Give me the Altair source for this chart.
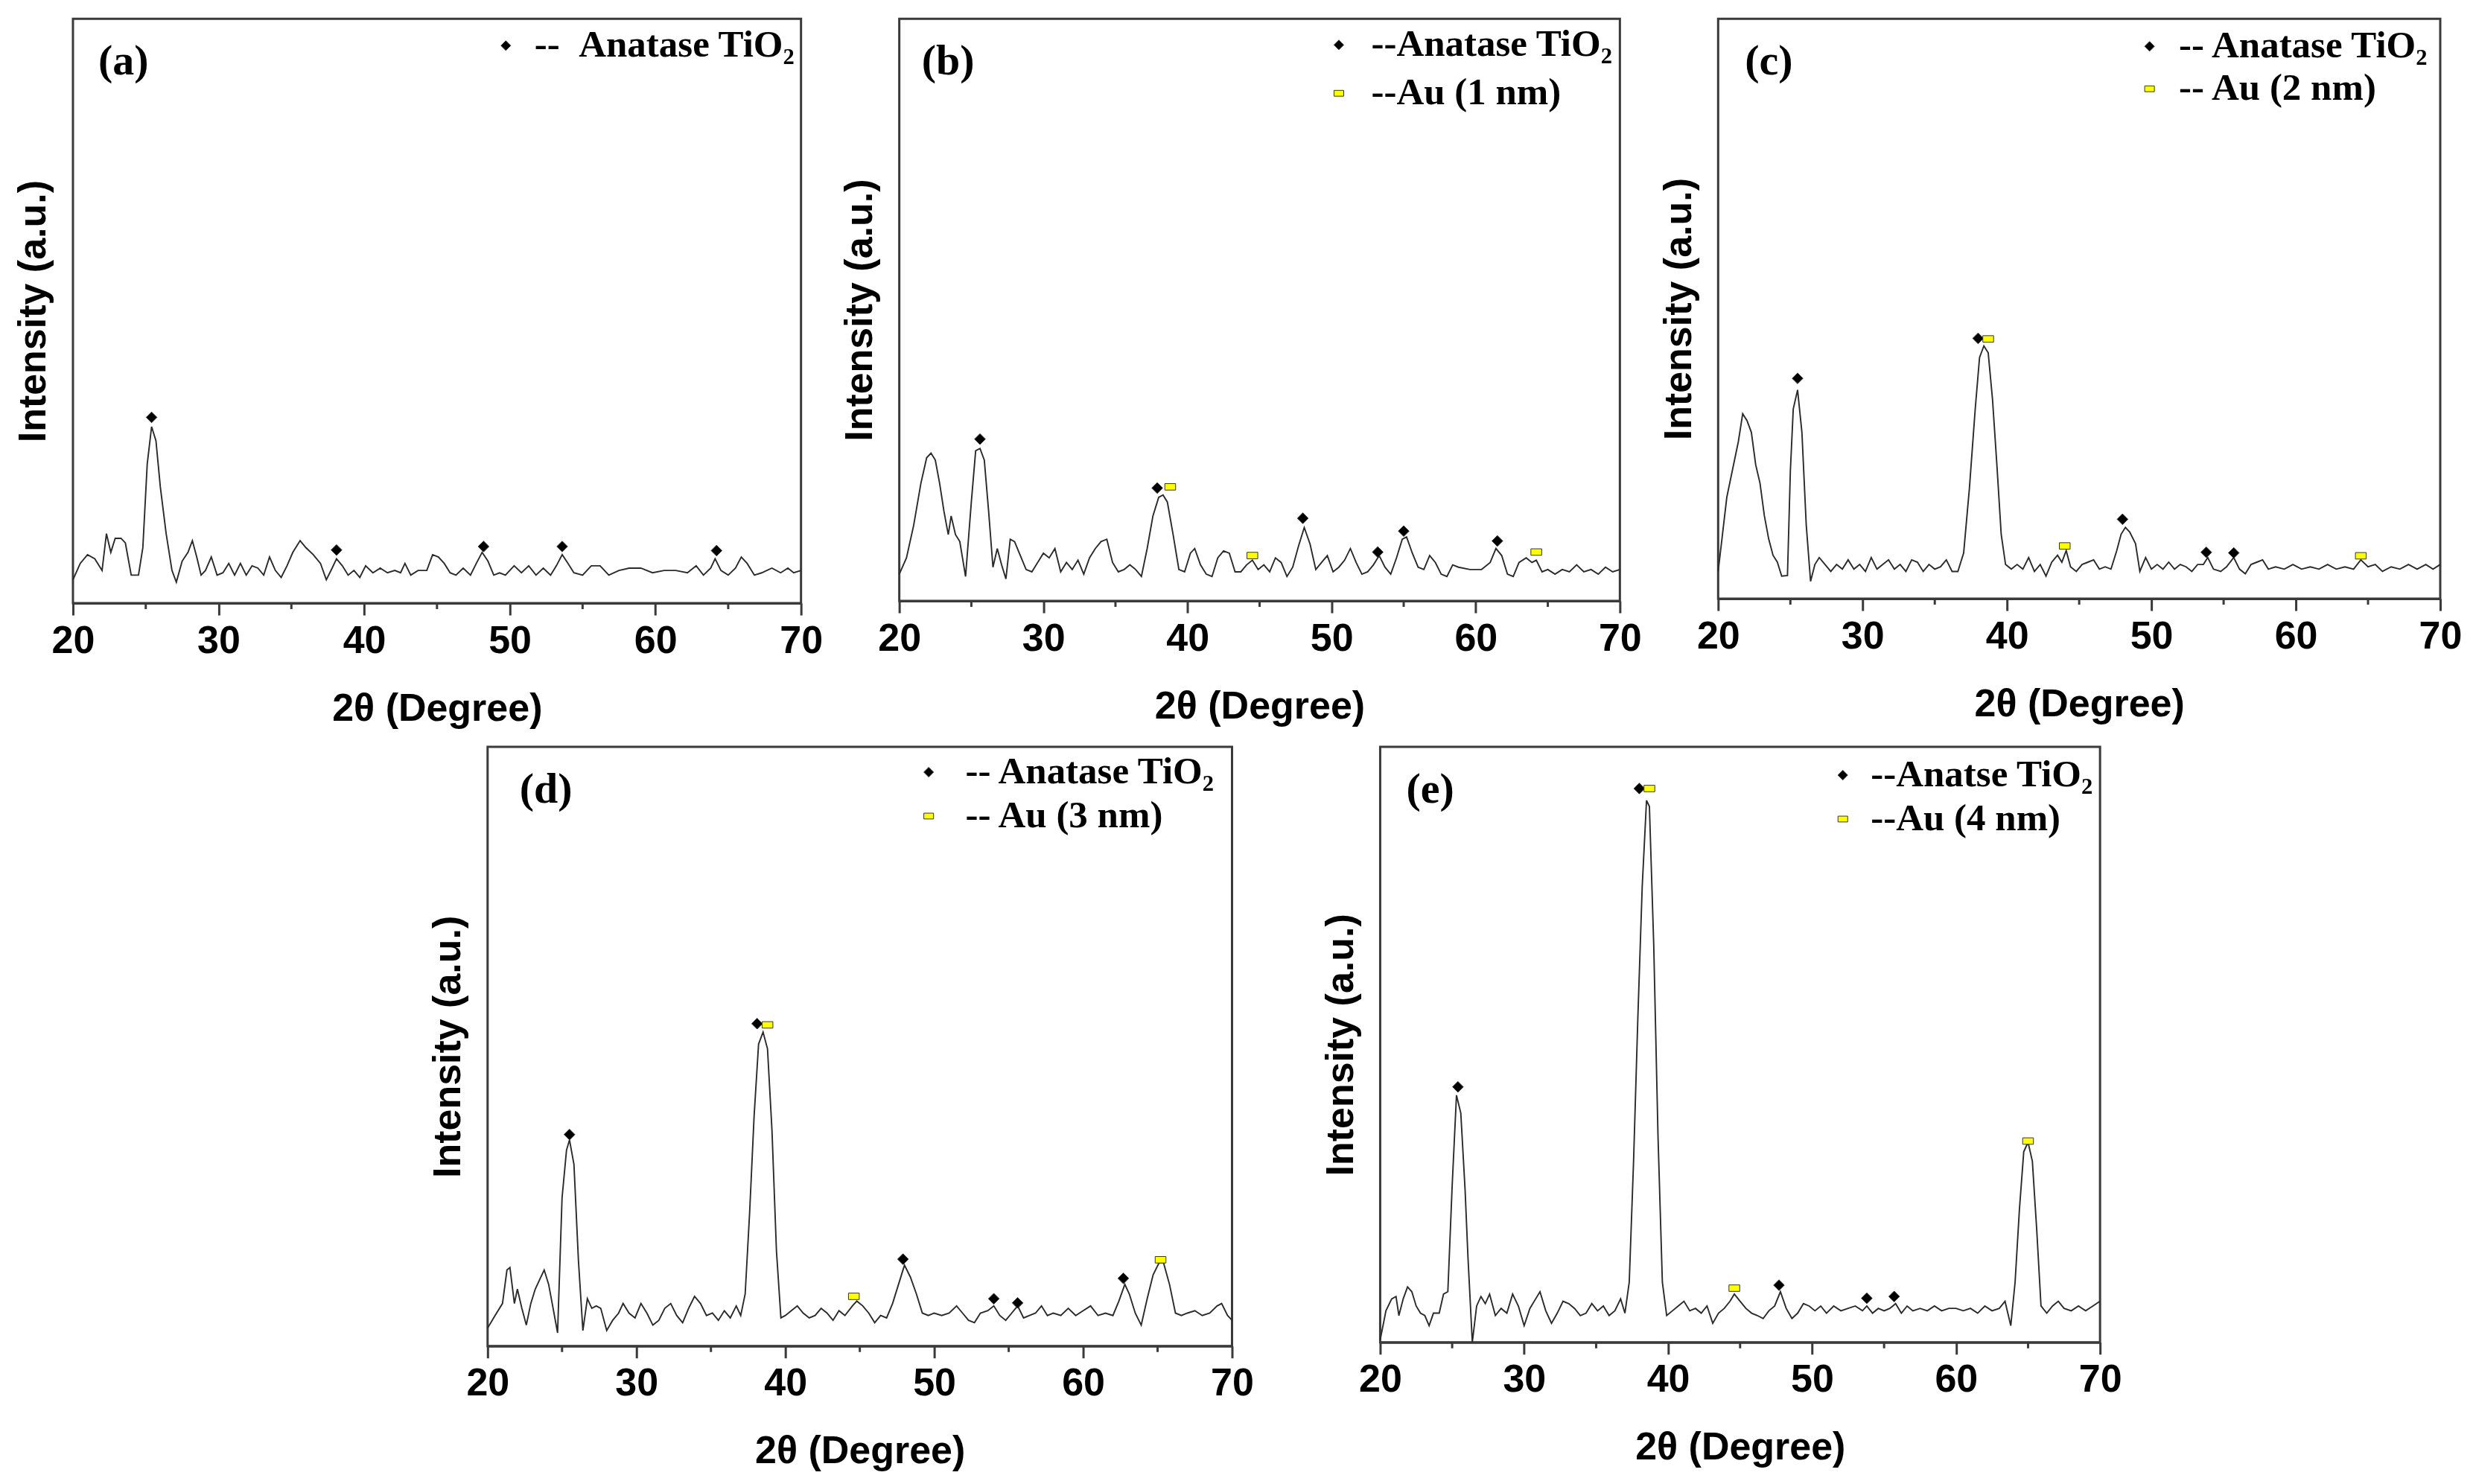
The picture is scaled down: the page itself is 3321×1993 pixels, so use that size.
import altair as alt
import pandas as pd

# ---------------- data (x = 2theta in degrees, y = intensity in % of plot height) ----------------
A_X = [20.0, 20.5, 21.0, 21.5, 22.0, 22.3, 22.6, 22.9, 23.3, 23.6, 24.0, 24.5, 24.8, 25.1, 25.4, 25.7, 26.0, 26.4,
       26.8, 27.1, 27.5, 27.9, 28.2, 28.5, 28.8, 29.1, 29.5, 29.9, 30.3, 30.7, 31.1, 31.5, 31.9, 32.3, 32.7, 33.1,
       33.5, 33.9, 34.3, 34.7, 35.1, 35.6, 36.0, 36.5, 37.0, 37.4, 37.8, 38.1, 38.5, 38.9, 39.3, 39.7, 40.1, 40.6,
       41.1, 41.6, 42.1, 42.5, 42.8, 43.2, 43.7, 44.3, 44.7, 45.1, 45.5, 45.9, 46.3, 46.8, 47.3, 47.7, 48.1, 48.5,
       48.9, 49.3, 49.7, 50.3, 50.8, 51.3, 51.8, 52.3, 52.8, 53.2, 53.6, 54.0, 54.4, 55.0, 55.6, 56.2, 56.8, 57.5,
       58.2, 59.0, 59.8, 60.6, 61.4, 62.2, 62.8, 63.3, 63.8, 64.1, 64.5, 65.0, 65.5, 65.9, 66.3, 66.8, 67.3, 68.0,
       68.6, 69.1, 69.5, 70.0]
A_Y = [4.0, 6.8, 8.3, 7.6, 5.6, 11.9, 8.7, 11.1, 11.1, 10.3, 4.8, 4.8, 9.5, 23.8, 30.2, 27.8, 19.9, 11.9,
       5.6, 3.6, 7.2, 8.7, 10.7, 7.9, 4.8, 5.6, 7.9, 4.8, 5.2, 6.8, 4.8, 6.8, 4.8, 6.4, 6.0, 4.8,
       7.9, 5.6, 4.4, 6.4, 8.7, 10.7, 9.5, 8.3, 6.8, 4.0, 6.0, 7.6, 6.4, 4.8, 5.6, 4.4, 6.4, 5.2,
       6.0, 5.2, 5.6, 5.2, 6.8, 4.8, 5.6, 5.6, 8.3, 7.9, 6.8, 5.2, 4.8, 6.0, 4.8, 6.8, 8.7, 7.2,
       4.8, 5.2, 4.8, 6.4, 5.2, 6.4, 4.8, 6.0, 4.8, 6.4, 8.3, 6.8, 5.2, 4.8, 6.4, 6.4, 4.8, 5.6,
       6.0, 6.0, 5.2, 5.6, 5.6, 5.2, 6.4, 4.8, 6.0, 7.6, 5.6, 4.8, 6.0, 7.9, 6.8, 4.8, 5.2, 6.0,
       5.2, 6.0, 5.2, 5.6]
A_PK_X = [25.4, 38.1, 48.2, 53.6, 64.2]
A_PK_Y = [31.8, 9.1, 9.7, 9.7, 9.0]
A_PK_T = [0, 0, 0, 0, 0]

B_X = [20.0, 20.5, 21.0, 21.5, 21.9, 22.2, 22.5, 22.8, 23.1, 23.4, 23.6, 23.9, 24.2, 24.6, 25.0, 25.3, 25.6, 25.9,
       26.2, 26.5, 26.8, 27.1, 27.4, 27.7, 28.0, 28.4, 28.8, 29.2, 29.6, 30.0, 30.4, 30.8, 31.2, 31.6, 32.0, 32.4,
       32.8, 33.2, 33.6, 34.0, 34.4, 34.8, 35.2, 35.6, 36.0, 36.4, 36.8, 37.2, 37.6, 38.0, 38.3, 38.6, 39.0, 39.4,
       39.8, 40.2, 40.5, 40.9, 41.3, 41.7, 42.1, 42.5, 42.9, 43.3, 43.7, 44.1, 44.5, 44.9, 45.3, 45.7, 46.1, 46.5,
       46.9, 47.3, 47.7, 48.1, 48.5, 48.9, 49.3, 49.7, 50.1, 50.5, 50.9, 51.3, 51.7, 52.1, 52.5, 52.9, 53.3, 53.7,
       54.1, 54.5, 54.9, 55.2, 55.6, 56.0, 56.4, 56.8, 57.2, 57.6, 58.0, 58.4, 58.8, 59.6, 60.4, 61.0, 61.4, 61.8,
       62.2, 62.6, 63.0, 63.5, 63.9, 64.2, 64.6, 65.0, 65.5, 66.0, 66.5, 67.0, 67.5, 68.0, 68.5, 69.0, 69.5, 70.0]
B_Y = [4.6, 7.4, 13.0, 20.2, 24.6, 25.4, 24.2, 20.2, 15.4, 11.4, 14.6, 11.4, 10.2, 4.2, 17.0, 25.8, 26.2, 24.2,
       15.4, 5.8, 9.0, 6.2, 3.8, 10.6, 10.2, 7.8, 5.4, 5.0, 6.6, 8.2, 7.4, 9.0, 5.0, 6.6, 5.4, 7.0,
       4.6, 7.4, 9.0, 10.2, 10.6, 6.6, 5.0, 5.4, 6.2, 5.4, 4.2, 9.0, 14.6, 17.8, 18.2, 17.0, 11.4, 5.4,
       5.0, 8.2, 9.0, 6.2, 4.6, 4.2, 7.4, 8.6, 8.2, 5.0, 5.0, 6.2, 7.0, 5.4, 6.2, 5.0, 7.4, 6.6,
       4.2, 5.8, 9.4, 12.6, 9.8, 5.4, 6.6, 7.8, 5.0, 5.8, 7.0, 9.0, 6.6, 4.6, 5.0, 6.2, 7.8, 5.8,
       4.6, 7.4, 10.6, 11.0, 8.2, 5.8, 5.4, 7.8, 6.6, 4.6, 4.2, 6.2, 5.8, 5.4, 5.4, 6.6, 9.0, 7.8,
       4.6, 4.2, 6.6, 7.4, 6.6, 7.0, 5.0, 5.4, 4.6, 5.4, 5.0, 6.2, 5.0, 5.4, 4.6, 5.8, 5.0, 5.4]
B_PK_X = [25.6, 37.9, 48.0, 53.2, 55.0, 61.5, 38.8, 44.5, 64.2]
B_PK_Y = [27.8, 19.4, 14.2, 8.4, 12.0, 10.3, 19.6, 7.8, 8.4]
B_PK_T = [0, 0, 0, 0, 0, 0, 1, 1, 1]

C_X = [20.0, 20.3, 20.6, 21.0, 21.4, 21.7, 22.0, 22.3, 22.6, 22.9, 23.2, 23.5, 23.8, 24.1, 24.4, 24.8, 25.0, 25.2,
       25.5, 25.8, 26.1, 26.4, 26.7, 27.0, 27.4, 27.8, 28.2, 28.6, 29.0, 29.4, 29.8, 30.2, 30.6, 31.0, 31.4, 31.8,
       32.2, 32.6, 33.0, 33.4, 33.8, 34.2, 34.6, 35.0, 35.4, 35.8, 36.2, 36.6, 37.0, 37.4, 37.8, 38.1, 38.4, 38.7,
       39.0, 39.3, 39.6, 39.9, 40.3, 40.7, 41.1, 41.5, 41.9, 42.3, 42.7, 43.1, 43.5, 43.8, 44.1, 44.4, 44.8, 45.2,
       45.6, 46.0, 46.4, 46.8, 47.2, 47.6, 47.9, 48.2, 48.5, 48.9, 49.2, 49.6, 50.0, 50.4, 50.8, 51.2, 51.6, 52.0,
       52.4, 52.8, 53.2, 53.6, 53.9, 54.3, 54.8, 55.2, 55.7, 56.1, 56.5, 56.9, 57.3, 57.7, 58.1, 58.6, 59.2, 59.8,
       60.4, 61.0, 61.6, 62.2, 62.8, 63.4, 64.0, 64.5, 65.0, 65.5, 66.0, 66.6, 67.2, 67.8, 68.4, 69.0, 69.5, 70.0]
C_Y = [4.7, 11.1, 17.5, 22.3, 27.1, 31.9, 30.7, 28.7, 23.1, 19.9, 14.3, 10.3, 7.5, 6.3, 3.9, 4.0, 22.0, 32.7,
       36.0, 28.7, 12.7, 3.0, 5.9, 7.1, 5.9, 4.7, 5.9, 5.1, 6.7, 5.1, 5.9, 4.7, 7.1, 5.1, 5.9, 6.7,
       5.1, 5.9, 4.7, 6.7, 6.3, 4.7, 5.9, 5.1, 5.5, 6.7, 4.7, 4.7, 7.9, 19.1, 32.7, 41.6, 43.6, 42.4,
       34.3, 23.1, 11.1, 5.9, 5.1, 5.9, 5.1, 7.1, 4.7, 5.9, 3.9, 6.3, 7.5, 6.3, 8.3, 5.5, 4.7, 5.9,
       6.3, 6.7, 5.1, 5.5, 5.1, 8.3, 11.1, 12.3, 11.5, 9.5, 4.7, 7.1, 5.1, 5.9, 5.1, 6.3, 5.1, 5.9,
       5.5, 4.7, 5.9, 5.9, 7.1, 5.1, 4.7, 5.5, 7.1, 5.1, 4.3, 5.9, 6.3, 6.7, 5.1, 5.5, 5.1, 5.9,
       5.1, 5.5, 5.1, 5.9, 5.1, 5.5, 5.1, 6.7, 5.5, 5.9, 4.7, 5.5, 5.1, 5.9, 5.1, 5.9, 5.1, 5.9]
C_PK_X = [25.5, 38.0, 48.0, 53.8, 55.7, 38.7, 44.0, 64.5]
C_PK_Y = [38.0, 44.9, 13.7, 8.0, 7.9, 44.8, 9.1, 7.4]
C_PK_T = [0, 0, 0, 0, 0, 1, 1, 1]

D_X = [20.0, 20.5, 21.0, 21.3, 21.5, 21.8, 22.0, 22.3, 22.6, 22.9, 23.2, 23.5, 23.8, 24.1, 24.4, 24.7, 25.0, 25.3,
       25.5, 25.8, 26.1, 26.4, 26.7, 27.0, 27.3, 27.6, 28.0, 28.4, 28.8, 29.1, 29.5, 29.9, 30.3, 30.7, 31.1, 31.5,
       31.9, 32.3, 32.7, 33.1, 33.5, 33.9, 34.3, 34.7, 35.1, 35.5, 35.9, 36.3, 36.7, 37.0, 37.3, 37.6, 37.9, 38.2,
       38.5, 38.8, 39.1, 39.4, 39.7, 40.0, 40.4, 40.8, 41.2, 41.6, 42.0, 42.4, 42.8, 43.2, 43.6, 44.0, 44.5, 44.8,
       45.2, 45.6, 46.0, 46.4, 46.8, 47.2, 47.6, 48.0, 48.4, 48.8, 49.2, 49.6, 50.0, 50.5, 51.0, 51.5, 51.9, 52.3,
       52.7, 53.1, 53.6, 54.0, 54.4, 54.8, 55.2, 55.6, 56.0, 56.4, 56.8, 57.2, 57.6, 58.0, 58.5, 59.0, 59.5, 60.0,
       60.5, 61.0, 61.5, 62.0, 62.4, 62.8, 63.1, 63.5, 63.9, 64.3, 64.7, 65.1, 65.4, 65.8, 66.2, 66.6, 67.0, 67.5,
       68.0, 68.5, 69.0, 69.3, 69.7, 70.0]
D_Y = [3.0, 5.1, 7.1, 12.7, 13.1, 7.1, 9.5, 6.3, 3.5, 7.1, 9.5, 11.1, 12.7, 10.3, 6.3, 2.2, 24.7, 32.7,
       34.4, 30.3, 14.3, 2.6, 7.9, 6.3, 6.7, 6.3, 2.6, 4.3, 5.5, 7.1, 5.5, 4.7, 7.1, 5.5, 3.5, 4.3,
       6.3, 7.1, 5.1, 3.9, 6.3, 8.3, 7.1, 5.1, 5.5, 4.3, 5.9, 4.7, 6.7, 5.1, 8.7, 22.3, 38.4, 50.4,
       52.4, 49.6, 36.0, 15.9, 4.7, 5.1, 5.9, 6.7, 5.5, 4.7, 5.1, 6.3, 5.5, 4.3, 5.9, 5.1, 6.7, 7.5,
       6.7, 5.5, 3.9, 5.1, 4.7, 7.1, 10.3, 13.5, 11.5, 8.7, 5.5, 5.1, 5.5, 5.1, 5.5, 6.7, 5.5, 4.3,
       3.9, 5.5, 5.9, 6.7, 5.1, 4.3, 5.5, 6.7, 4.7, 5.1, 5.5, 6.7, 5.1, 5.5, 5.1, 6.3, 5.1, 5.9,
       6.7, 5.1, 5.5, 5.1, 7.5, 10.3, 8.7, 5.5, 3.5, 7.9, 11.9, 13.9, 13.9, 10.3, 5.5, 5.1, 5.5, 5.9,
       5.1, 5.5, 6.7, 7.1, 5.1, 4.3]
D_PK_X = [25.5, 38.1, 47.9, 54.0, 55.6, 62.7, 38.8, 44.6, 65.2]
D_PK_Y = [35.3, 53.8, 14.5, 7.9, 7.2, 11.3, 53.6, 8.3, 14.4]
D_PK_T = [0, 0, 0, 0, 0, 0, 1, 1, 1]

E_X = [20.0, 20.4, 20.8, 21.1, 21.3, 21.6, 21.9, 22.2, 22.5, 22.8, 23.1, 23.4, 23.7, 24.1, 24.4, 24.7, 25.0, 25.3,
       25.6, 25.9, 26.1, 26.4, 26.7, 27.0, 27.3, 27.6, 28.0, 28.4, 28.8, 29.2, 29.6, 30.0, 30.4, 30.8, 31.1, 31.5,
       31.9, 32.3, 32.7, 33.1, 33.5, 33.9, 34.3, 34.7, 35.1, 35.5, 35.9, 36.3, 36.7, 37.0, 37.3, 37.6, 37.9, 38.2,
       38.5, 38.7, 39.0, 39.3, 39.6, 39.9, 40.3, 40.7, 41.1, 41.5, 41.9, 42.3, 42.7, 43.1, 43.5, 43.9, 44.3, 44.6,
       45.0, 45.4, 45.8, 46.2, 46.6, 47.0, 47.4, 47.8, 48.2, 48.6, 49.0, 49.4, 49.8, 50.2, 50.6, 51.0, 51.5, 52.0,
       52.5, 53.0, 53.5, 53.8, 54.2, 54.6, 55.0, 55.4, 55.8, 56.2, 56.6, 57.0, 57.5, 58.0, 58.5, 59.0, 59.5, 60.0,
       60.5, 61.0, 61.5, 62.0, 62.5, 63.0, 63.4, 63.8, 64.1, 64.4, 64.7, 65.0, 65.3, 65.6, 65.9, 66.3, 66.7, 67.1,
       67.5, 68.0, 68.5, 69.0, 69.5, 70.0]
E_Y = [0.4, 5.3, 7.3, 7.7, 4.5, 7.3, 9.3, 8.5, 6.1, 4.9, 4.5, 2.8, 4.9, 4.9, 8.1, 8.5, 26.3, 41.5,
       38.5, 25.5, 14.2, 0.0, 6.1, 7.7, 6.5, 8.1, 4.5, 5.7, 4.9, 8.1, 6.1, 2.8, 5.7, 7.3, 8.5, 5.3,
       3.2, 4.9, 6.9, 6.5, 5.7, 4.5, 4.9, 6.5, 5.3, 6.1, 4.5, 5.3, 7.3, 4.9, 10.1, 30.4, 54.7, 76.5,
       91.0, 90.0, 66.8, 34.4, 10.1, 4.5, 5.3, 6.1, 6.9, 5.3, 5.7, 4.9, 6.1, 3.2, 4.9, 5.7, 6.9, 8.1,
       6.9, 5.7, 4.9, 4.5, 4.0, 5.3, 6.1, 8.5, 5.7, 4.0, 4.9, 6.5, 6.1, 5.3, 6.1, 4.9, 6.1, 5.3,
       5.7, 6.1, 5.3, 6.1, 4.9, 5.7, 5.3, 5.7, 6.5, 4.9, 6.1, 5.3, 5.7, 5.3, 6.1, 5.3, 5.7, 5.7,
       5.3, 5.7, 4.9, 6.1, 5.3, 5.7, 6.9, 2.8, 10.1, 22.3, 32.0, 33.6, 30.4, 19.0, 6.1, 4.9, 6.1, 6.9,
       5.7, 5.3, 6.1, 5.3, 6.1, 6.9]
E_PK_X = [25.4, 38.0, 47.7, 53.8, 55.7, 38.7, 44.6, 65.0]
E_PK_Y = [42.9, 93.0, 9.6, 7.4, 7.7, 93.0, 9.1, 33.8]
E_PK_T = [0, 0, 0, 0, 0, 1, 1, 1]

TAGS = ["(a)", "(b)", "(c)", "(d)", "(e)"]
LEGEND_LABELS = [
    ["--\u00a0\u00a0Anatase TiO\u2082"],
    ["--Anatase TiO\u2082", "--Au (1 nm)"],
    ["-- Anatase TiO\u2082", "-- Au (2 nm)"],
    ["-- Anatase TiO\u2082", "-- Au (3 nm)"],
    ["--Anatse TiO\u2082", "--Au (4 nm)"],
]
X_TICKS = [20, 30, 40, 50, 60, 70]
X_MINOR = [25, 35, 45, 55, 65]

# ---------------- style ----------------
FRAME = "#3a3a3a"
LINE = "#2a2a2a"
SANS = "Liberation Sans"
SERIF = "Liberation Serif"
MARK_COLORS = ["#000000", "#ffff00"]
MARK_SHAPES = ["diamond", "M-1,-0.6L1,-0.6L1,0.6L-1,0.6Z"]

x_axis = alt.Axis(
    title="2\u03b8 (Degree)", values=X_TICKS, format="d", grid=False,
    domainColor=FRAME, domainWidth=3, tickColor=FRAME, tickWidth=3, tickSize=16,
    labelFont=SANS, labelFontSize=52, labelFontWeight="bold", labelColor="black",
    labelPadding=9, labelFlush=False, labelOverlap=False,
    titleFont=SANS, titleFontSize=52, titleFontWeight="bold", titleColor="black", titlePadding=40,
)
y_axis = alt.Axis(
    title="Intensity (a.u.)", labels=False, ticks=False, domain=False, grid=False,
    titleFont=SANS, titleFontSize=52, titleFontWeight="bold", titleColor="black", titlePadding=26,
)


def make_panel(xs, ys, pkx, pky, pkt, labels, tag, w, h, tag_x, leg):
    line_df = pd.DataFrame({"x": xs, "y": ys})
    pk_df = pd.DataFrame({"x": pkx, "y": pky, "type": [labels[t] for t in pkt]})
    n = len(labels)
    xenc = alt.X("x:Q", scale=alt.Scale(domain=[20, 70], nice=False, zero=False), axis=x_axis)
    yenc = alt.Y("y:Q", scale=alt.Scale(domain=[0, 100], nice=False), axis=y_axis)
    legend = alt.Legend(
        title=None, orient="none", legendX=leg[0], legendY=leg[1],
        labelFont=SERIF, labelFontSize=51, labelFontWeight="bold", labelColor="black",
        labelLimit=900, labelOffset=leg[2], rowPadding=leg[3], symbolSize=170,
        symbolStrokeColor="#333333", symbolStrokeWidth=1, padding=0,
    )
    line = alt.Chart(line_df).mark_line(color=LINE, strokeWidth=1.9).encode(x=xenc, y=yenc)
    minor = alt.Chart(pd.DataFrame({"x": X_MINOR})).mark_rule(color=FRAME, strokeWidth=3).encode(
        x=xenc, y=alt.value(h), y2=alt.value(h + 8))
    pts = alt.Chart(pk_df).mark_point(filled=True, size=210, stroke="#333333", strokeWidth=1, opacity=1).encode(
        x=xenc, y=yenc,
        color=alt.Color("type:N", scale=alt.Scale(domain=labels, range=MARK_COLORS[:n]), legend=legend),
        shape=alt.Shape("type:N", scale=alt.Scale(domain=labels, range=MARK_SHAPES[:n]), legend=legend),
    )
    txt = alt.Chart(pd.DataFrame({"t": [tag]})).mark_text(
        align="left", baseline="middle", font=SERIF, fontWeight="bold", fontSize=58, color="black"
    ).encode(text="t:N", x=alt.value(tag_x), y=alt.value(58))
    return alt.layer(line, minor, pts, txt).properties(width=w, height=h)


pa = make_panel(A_X, A_Y, A_PK_X, A_PK_Y, A_PK_T, LEGEND_LABELS[0], TAGS[0], 978, 785, 34, (556, 10.5, 13, 0))
pb = make_panel(B_X, B_Y, B_PK_X, B_PK_Y, B_PK_T, LEGEND_LABELS[1], TAGS[1], 968, 782, 30, (565, 9.5, 18, 13))
pc = make_panel(C_X, C_Y, C_PK_X, C_PK_Y, C_PK_T, LEGEND_LABELS[2], TAGS[2], 970, 779, 36, (554, 11.5, 14, 5))
pd_ = make_panel(D_X, D_Y, D_PK_X, D_PK_Y, D_PK_T, LEGEND_LABELS[3], TAGS[3], 1000, 805, 43, (567, 8.5, 24, 7))
pe = make_panel(E_X, E_Y, E_PK_X, E_PK_Y, E_PK_T, LEGEND_LABELS[4], TAGS[4], 967, 800, 35, (596, 12.5, 12, 7))

spacer = alt.Chart(pd.DataFrame({"x": [0]})).mark_point(opacity=0).encode(
    x=alt.X("x:Q", axis=None), y=alt.Y("x:Q", axis=None)
).properties(width=358, height=10, view=alt.ViewBackground(stroke="transparent", strokeWidth=0))

indep = dict(color="independent", shape="independent")

top = alt.hconcat(pa, pb, pc, spacing=132, bounds="flush").resolve_scale(**indep).resolve_legend(**indep)
bottom = alt.hconcat(spacer, pd_, pe, spacing=199, bounds="flush").resolve_scale(**indep).resolve_legend(**indep)

chart = alt.vconcat(top, bottom, spacing=22).resolve_scale(**indep).resolve_legend(**indep).properties(
    padding={"left": 9, "top": 15, "right": 5, "bottom": 5},
    background="white",
).configure_view(stroke=FRAME, strokeWidth=3)

chart.save("out.html", embed_options={"renderer": "svg", "actions": False})
